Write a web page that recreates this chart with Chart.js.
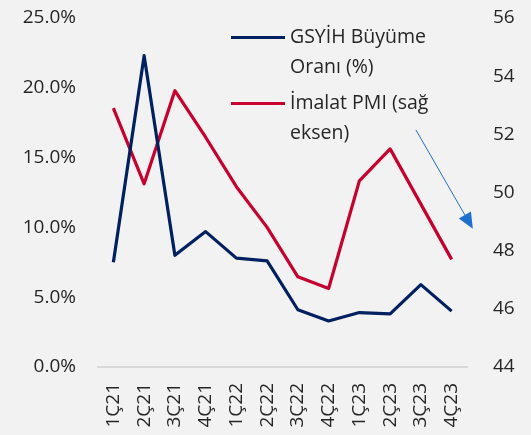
<!DOCTYPE html>
<html>
<head>
<meta charset="utf-8">
<script src="https://cdn.jsdelivr.net/npm/chart.js@4"></script>
<style>
  html, body { margin: 0; padding: 0; background: #f2f2f2; }
  #wrap { position: relative; width: 531px; height: 435px; }
  canvas { display: block; }
  .legend { position: absolute; left: 231px; top: 21px; font-family: "Open Sans", sans-serif; font-size: 19.5px; color: #262626; line-height: 30px; }
  .legend-item { display: flex; align-items: flex-start; margin-bottom: 6px; }
  .legend-line { width: 54px; height: 3px; margin-top: 15px; margin-right: 5px; }
</style>
</head>
<body>
<div id="wrap">
  <canvas id="chart" width="531" height="435"></canvas>
  <div class="legend">
    <div class="legend-item"><span class="legend-line" style="background:#002060"></span><span>GSYİH Büyüme<br>Oranı (%)</span></div>
    <div class="legend-item"><span class="legend-line" style="background:#C8002D"></span><span>İmalat PMI (sağ<br>eksen)</span></div>
  </div>
</div>
<script>
// ── Dati ─────────────────────────────
const quarters = ['1Ç21', '2Ç21', '3Ç21', '4Ç21', '1Ç22', '2Ç22', '3Ç22', '4Ç22', '1Ç23', '2Ç23', '3Ç23', '4Ç23'];
const gdpGrowth = [7.5, 22.3, 8.0, 9.7, 7.8, 7.6, 4.1, 3.3, 3.9, 3.8, 5.9, 4.0];
const pmi = [52.9, 50.3, 53.5, 51.9, 50.2, 48.8, 47.1, 46.7, 50.4, 51.5, 49.6, 47.7];
const leftTicks = [0, 5, 10, 15, 20, 25];
const rightTicks = [44, 46, 48, 50, 52, 54, 56];

const NAVY = '#002060';
const RED = '#C8002D';
const TEXT = '#262626';
const FONT = { family: '"Open Sans", sans-serif', size: 19 };

// freccia blu (annotazione) in coordinate di scala
const arrowPlugin = {
  id: 'arrow',
  afterDraw(chart) {
    const x = chart.scales.x, yr = chart.scales.y1;
    const x0 = x.getPixelForValue(9.84), y0 = yr.getPixelForValue(52.15);
    const x1 = x.getPixelForValue(11.69), y1 = yr.getPixelForValue(48.75);
    const ang = Math.atan2(y1 - y0, x1 - x0);
    const len = 16, half = 7;
    const ctx = chart.ctx;
    const bx = x1 - len * Math.cos(ang), by = y1 - len * Math.sin(ang);
    ctx.save();
    ctx.strokeStyle = '#1F6FD0';
    ctx.fillStyle = '#1F6FD0';
    ctx.lineWidth = 1;
    ctx.beginPath();
    ctx.moveTo(x0, y0);
    ctx.lineTo(bx, by);
    ctx.stroke();
    ctx.beginPath();
    ctx.moveTo(x1, y1);
    ctx.lineTo(bx + half * Math.sin(ang), by - half * Math.cos(ang));
    ctx.lineTo(bx - half * Math.sin(ang), by + half * Math.cos(ang));
    ctx.closePath();
    ctx.fill();
    ctx.restore();
  }
};

// niente padding extra sopra/sotto per le etichette degli assi y
const noPad = s => { s.paddingTop = 0; s.paddingBottom = 0; };

new Chart(document.getElementById('chart').getContext('2d'), {
  type: 'line',
  data: {
    labels: quarters,
    datasets: [
      { label: 'GSYİH Büyüme Oranı (%)', data: gdpGrowth, yAxisID: 'y', borderColor: NAVY, borderWidth: 3.2, borderJoinStyle: 'round', pointRadius: 0, tension: 0, fill: false },
      { label: 'İmalat PMI (sağ eksen)', data: pmi, yAxisID: 'y1', borderColor: RED, borderWidth: 3.2, borderJoinStyle: 'round', pointRadius: 0, tension: 0, fill: false }
    ]
  },
  options: {
    responsive: false,
    animation: false,
    layout: { padding: { top: 18, left: 0, right: 0, bottom: 0 } },
    plugins: { legend: { display: false }, tooltip: { enabled: false } },
    scales: {
      x: {
        offset: true,
        grid: { display: false, drawTicks: false },
        border: { display: true, color: '#D9D9D9', width: 2 },
        ticks: { color: TEXT, font: FONT, minRotation: 90, maxRotation: 90, padding: 16, autoSkip: false },
        afterFit: s => { s.height = 68; }
      },
      y: {
        position: 'left',
        min: 0, max: 25,
        afterBuildTicks: s => { s.ticks = leftTicks.map(v => ({ value: v })); },
        grid: { display: false, drawTicks: false },
        border: { display: false },
        ticks: { color: TEXT, font: FONT, padding: 22, callback: v => v.toFixed(1) + '%' },
        afterFit: s => { s.width = 98; noPad(s); }
      },
      y1: {
        position: 'right',
        min: 44, max: 56,
        afterBuildTicks: s => { s.ticks = rightTicks.map(v => ({ value: v })); },
        grid: { display: false, drawTicks: false },
        border: { display: false },
        ticks: { color: TEXT, font: FONT, padding: 26 },
        afterFit: s => { s.width = 64; noPad(s); }
      }
    }
  },
  plugins: [arrowPlugin]
});
</script>
</body>
</html>
